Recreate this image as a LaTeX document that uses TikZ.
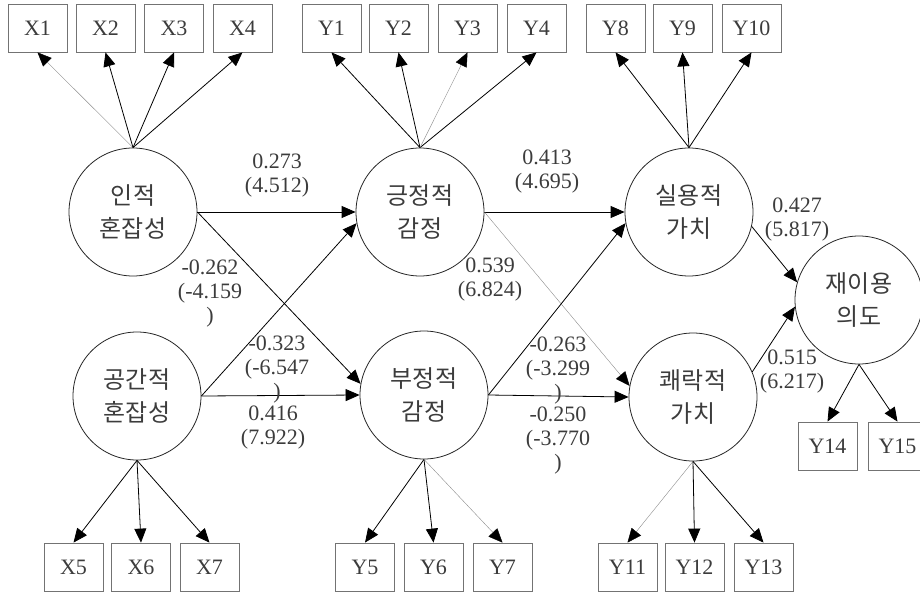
\documentclass[tikz,border=0pt]{standalone}
\usepackage{fontspec}
\setmainfont{Liberation Serif}
\newfontfamily\kor{Noto Sans CJK KR}
\usepackage{tikz}
\usetikzlibrary{arrows.meta,
           positioning}
\definecolor{ink}{RGB}{60,60,60}
\definecolor{rim}{RGB}{115,115,115}

\begin{document}
\begin{tikzpicture}[x=0.5pt,y=-0.5pt,
  ind/.style={draw=rim,minimum width=29.5pt,minimum height=24pt,inner sep=0pt,text=ink,font=\fontsize{11}{12}\selectfont},
  lat/.style={draw=black!85,circle,minimum size=64pt,inner sep=0pt,align=center,text=ink,font=\kor\fontsize{12}{16.5}\selectfont},
  coef/.style={align=center,text=ink,inner sep=0pt,font=\fontsize{11}{12}\selectfont},
  arr/.style={-{Triangle[length=7pt,width=6pt]},black},
  weak/.style={-{Triangle[length=7pt,width=6pt,fill=black,color=black]},black!45,very thin}]
\useasboundingbox (0,0) rectangle (920,593);
% latent variables
\node[lat] (inj) at (133,212) {인적\\혼잡성};
\node[lat] (gong) at (137,396) {공간적\\혼잡성};
\node[lat] (pos) at (420,212) {긍정적\\감정};
\node[lat] (neg) at (424,395) {부정적\\감정};
\node[lat] (sil) at (689,212) {실용적\\가치};
\node[lat] (kwe) at (693,397) {쾌락적\\가치};
\node[lat] (rei) at (859,300) {재이용\\의도};
% indicators
\foreach \n/\x in {X1/37.5,X2/105.5,X3/174,X4/242.5,Y1/331.5,Y2/398.5,Y3/467.5,Y4/536.5,Y8/615.5,Y9/682.5,Y10/751.5}
\node[ind] (\n) at (\x,28) {\n};
\foreach \n/\x in {X5/73.5,X6/141,X7/209.5,Y5/365,Y6/433.5,Y7/502.5,Y11/627.5,Y12/694.5,Y13/763.5}
\node[ind] (\n) at (\x,567) {\n};
\node[ind] (Y14) at (827.5,446) {Y14};
\node[ind] (Y15) at (897.5,446) {Y15};
% loadings
\draw[weak](inj.north)--(X1.south);
\foreach \n in {X2,X3,X4}
\draw[arr](inj.north)--(\n.south);
\foreach \n in {Y1,Y2,Y4}
\draw[arr](pos.north)--(\n.south);
\draw[weak](pos.north)--(Y3.south);
\foreach \n in {Y8,Y9,Y10}
\draw[arr](sil.north)--(\n.south);
\foreach \n in {X5,X6,X7}
\draw[arr](gong.south)--(\n.north);
\foreach \n in {Y5,Y6}
\draw[arr](neg.south)--(\n.north);
\draw[weak](neg.south)--(Y7.north);
\draw[weak](kwe.south)--(Y11.north);
\foreach \n in {Y12,Y13}
\draw[arr](kwe.south)--(\n.north);
\foreach \n in {Y14,Y15}
\draw[arr](rei.south)--(\n.north);
% structural paths
\draw[arr](inj.east)--(pos.west);
\draw[arr](inj.east)--(neg.170);
\draw[arr](gong.east)--(pos.190);
\draw[arr](gong.east)--(neg.west);
\draw[arr](pos.east)--(sil.west);
\draw[weak](pos.east)--(kwe.170);
\draw[arr](neg.east)--(sil.190);
\draw[arr](neg.east)--(kwe.west);
\draw[arr](sil.-13)--(rei.164);
\draw[arr](kwe.23)--(rei.186);
% coefficients
\node[coef] (c1) at (277,176) {0.273\\(4.512)};
\node[coef] (c2) at (210,294) {-0.262\\(-4.159\\)};
\node[coef] (c3) at (277,370) {-0.323\\(-6.547\\)};
\node[coef] (c4) at (273,428) {0.416\\(7.922)};
\node[coef] (c5) at (547,172) {0.413\\(4.695)};
\node[coef] (c6) at (490,280) {0.539\\(6.824)};
\node[coef] (c7) at (558,371) {-0.263\\(-3.299\\)};
\node[coef] (c8) at (558,441) {-0.250\\(-3.770\\)};
\node[coef] (c9) at (797,220) {0.427\\(5.817)};
\node[coef] (c10) at (792,372) {0.515\\(6.217)};
\end{tikzpicture}
\end{document}
